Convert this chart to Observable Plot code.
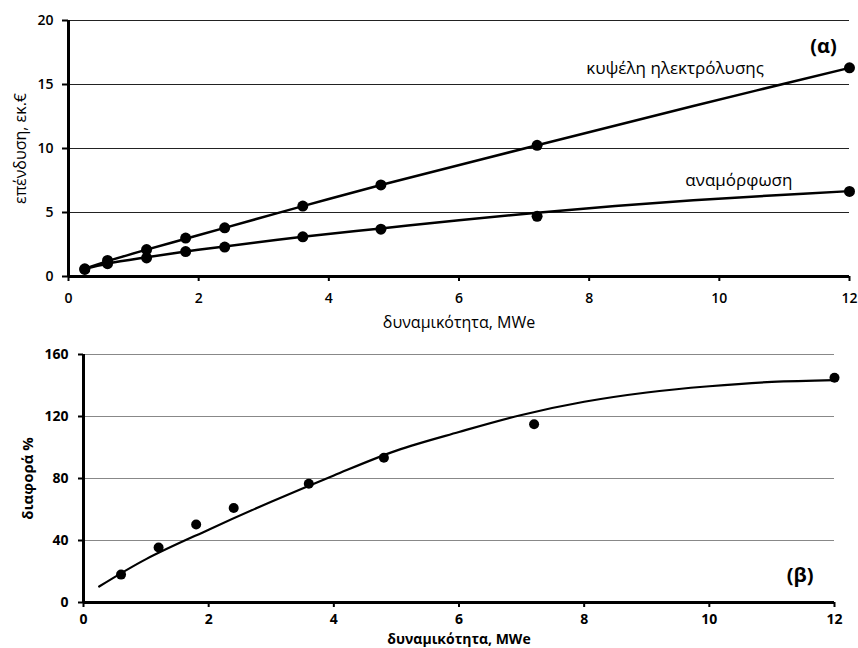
<!DOCTYPE html>
<html>
<head>
<meta charset="utf-8">
<script src="https://cdn.jsdelivr.net/npm/d3@7"></script>
<script src="https://cdn.jsdelivr.net/npm/@observablehq/plot@0.6"></script>
<style>
  body { margin: 0; background: #fff; }
  #chart svg { display: block; }
</style>
</head>
<body>
<div id="chart"></div>
<script>
// ---- Data ----
// (α) investment, million €
const capacity = [0.25, 0.6, 1.2, 1.8, 2.4, 3.6, 4.8, 7.2, 12];
const electrolysis = [0.6, 1.25, 2.1, 3.0, 3.8, 5.5, 7.15, 10.25, 16.3];
const reforming = [0.55, 1.0, 1.45, 1.95, 2.3, 3.1, 3.7, 4.7, 6.65];

// trend lines
const electrolysisFitX = [0.25, 0.6, 1.2, 1.8, 2.4, 3.6, 4.8, 7.2, 9.6, 12];
const electrolysisFitY = [0.62, 1.2, 2.1, 2.95, 3.8, 5.5, 7.15, 10.25, 13.32, 16.3];
const reformingFitX = [0.25, 0.6, 1.2, 1.8, 2.4, 3.6, 4.8, 6, 7.2, 8.4, 9.6, 10.8, 12];
const reformingFitY = [0.6, 1.0, 1.5, 1.95, 2.35, 3.1, 3.75, 4.4, 4.98, 5.5, 5.95, 6.33, 6.67];

// (β) difference %
const diffX = [0.6, 1.2, 1.8, 2.4, 3.6, 4.8, 7.2, 12];
const diffY = [18, 35.5, 50.3, 61, 76.6, 93.4, 115, 145];
const diffFitX = [0.25, 1, 2, 3, 4, 5, 6, 7, 8, 9, 10, 11, 12];
const diffFitY = [10.3, 28, 47, 65, 82, 98, 110, 121, 129.5, 135.5, 139.5, 142.3, 143.5];

// ticks and labels
const xTicks = [0, 2, 4, 6, 8, 10, 12];
const topYTicks = [0, 5, 10, 15, 20];
const bottomYTicks = [0, 40, 80, 120, 160];
const xTitle = "δυναμικότητα, MWe";
const topYTitle = "επένδυση, εκ.€";
const bottomYTitle = "διαφορά %";
const seriesNames = ["κυψέλη ηλεκτρόλυσης", "αναμόρφωση"];
const panelNames = ["(α)", "(β)"];

// ---- tables built from the arrays ----
const elecPts = capacity.map((x, i) => ({x, y: electrolysis[i]}));
const refPts = capacity.map((x, i) => ({x, y: reforming[i]}));
const elecFit = electrolysisFitX.map((x, i) => ({x, y: electrolysisFitY[i]}));
const refFit = reformingFitX.map((x, i) => ({x, y: reformingFitY[i]}));
const diffPts = diffX.map((x, i) => ({x, y: diffY[i]}));
const diffFit = diffFitX.map((x, i) => ({x, y: diffFitY[i]}));

const font = "'Open Sans', 'DejaVu Sans', sans-serif";

const topChart = Plot.plot({
  width: 858, height: 338,
  marginLeft: 68, marginRight: 9, marginTop: 20, marginBottom: 62,
  style: {fontFamily: font, fontSize: "14px", color: "#000", background: "#fff", overflow: "visible"},
  x: {domain: [0, 12]},
  y: {domain: [0, 20]},
  marks: [
    Plot.ruleY(topYTicks.filter(d => d > 0), {stroke: "#222", strokeWidth: 1}),
    Plot.axisX({ticks: xTicks, tickSize: 5, tickPadding: 12, label: null, fontWeight: 600, fill: "#000", strokeWidth: 2}),
    Plot.axisY({ticks: topYTicks, tickSize: 6, tickPadding: 9, label: null, fontWeight: 600, fill: "#000", strokeWidth: 2}),
    Plot.ruleY([0], {stroke: "#000", strokeWidth: 3}),
    Plot.ruleX([0], {stroke: "#000", strokeWidth: 3}),
    Plot.line(elecFit, {x: "x", y: "y", curve: "catmull-rom", stroke: "#000", strokeWidth: 2.5}),
    Plot.line(refFit, {x: "x", y: "y", curve: "catmull-rom", stroke: "#000", strokeWidth: 2.5}),
    Plot.dot(elecPts, {x: "x", y: "y", r: 5.5, fill: "#000"}),
    Plot.dot(refPts, {x: "x", y: "y", r: 5.5, fill: "#000"}),
    Plot.text([seriesNames[0]], {text: d => d, x: 9.32, y: 16.25, fontSize: 17, fontWeight: 500, fill: "#000"}),
    Plot.text([seriesNames[1]], {text: d => d, x: 10.3, y: 7.5, fontSize: 17, fontWeight: 500, fill: "#000"}),
    Plot.text([panelNames[0]], {text: d => d, x: 11.6, y: 18.0, fontSize: 20, fontWeight: 700, fill: "#000"}),
    Plot.text([xTitle], {text: d => d, frameAnchor: "bottom", textAnchor: "middle", lineAnchor: "middle", dy: 46, fontSize: 16, fontWeight: 500, fill: "#000"}),
    Plot.text([topYTitle], {text: d => d, frameAnchor: "left", textAnchor: "middle", lineAnchor: "middle", rotate: -90, dx: -48, fontSize: 16, fontWeight: 500, fill: "#000"})
  ]
});

const bottomChart = Plot.plot({
  width: 858, height: 310,
  marginLeft: 83, marginRight: 24, marginTop: 16, marginBottom: 46,
  style: {fontFamily: font, fontSize: "14px", color: "#000", background: "#fff", overflow: "visible"},
  x: {domain: [0, 12]},
  y: {domain: [0, 160]},
  marks: [
    Plot.ruleY(bottomYTicks.filter(d => d > 0), {stroke: "#888", strokeWidth: 1}),
    Plot.axisX({ticks: xTicks, tickSize: 5, tickPadding: 7, label: null, fontWeight: 700, fill: "#000", strokeWidth: 2}),
    Plot.axisY({ticks: bottomYTicks, tickSize: 5, tickPadding: 10, label: null, fontWeight: 700, fill: "#000", strokeWidth: 2}),
    Plot.ruleY([0], {stroke: "#000", strokeWidth: 3}),
    Plot.ruleX([0], {stroke: "#000", strokeWidth: 3}),
    Plot.line(diffFit, {x: "x", y: "y", curve: "catmull-rom", stroke: "#000", strokeWidth: 2.2}),
    Plot.dot(diffPts, {x: "x", y: "y", r: 5, fill: "#000"}),
    Plot.text([panelNames[1]], {text: d => d, x: 11.45, y: 17.2, fontSize: 20, fontWeight: 700, fill: "#000"}),
    Plot.text([xTitle], {text: d => d, frameAnchor: "bottom", textAnchor: "middle", lineAnchor: "middle", dy: 37, fontSize: 14, fontWeight: 700, fill: "#000"}),
    Plot.text([bottomYTitle], {text: d => d, frameAnchor: "left", textAnchor: "middle", lineAnchor: "middle", rotate: -90, dx: -55, fontSize: 15, fontWeight: 700, fill: "#000"})
  ]
});

const chart = document.getElementById("chart");
chart.appendChild(topChart);
chart.appendChild(bottomChart);
</script>
</body>
</html>
